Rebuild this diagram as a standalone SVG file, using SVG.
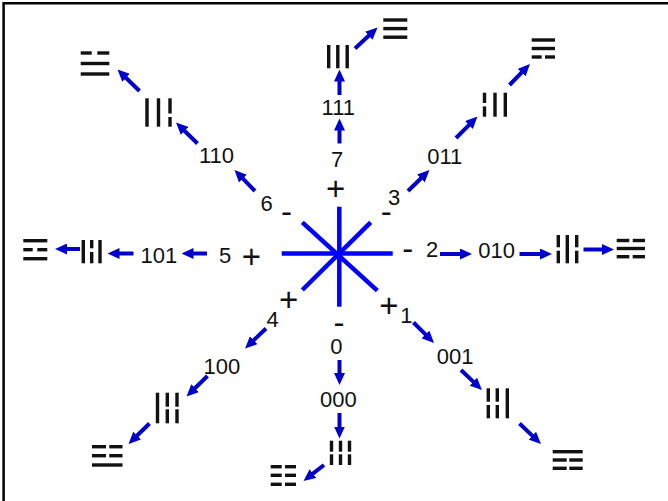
<svg xmlns="http://www.w3.org/2000/svg" width="668" height="501" viewBox="0 0 668 501">
<style>
.bg{fill:#fff}
.frame{fill:none;stroke:#000;stroke-width:2.5;stroke-linejoin:miter}
.star{stroke:#0000FF;stroke-width:4.5;stroke-linecap:butt}
.arr{stroke:#0000CD;stroke-width:4;fill:none;marker-end:url(#ah)}
.bar{fill:#111}
.lbl{font-family:"Liberation Sans",Arial,sans-serif;font-size:22px;fill:#111;text-anchor:middle}
.sgn{font-family:"Liberation Sans",Arial,sans-serif;font-size:33px;fill:#111;text-anchor:middle}
</style>
<defs>
<marker id="ah" viewBox="0 0 12 11" refX="1" refY="5.5" markerWidth="12" markerHeight="11" markerUnits="userSpaceOnUse" orient="auto">
<path d="M0,0 L12,5.5 L0,11 Z" fill="#0000CD"/>
</marker>
</defs>
<rect class="bg" x="0" y="0" width="668" height="501"/>
<path class="frame" d="M3.6,501 V3.3 H668"/>

<g id="hub">
<line class="star" x1="339.3" y1="206.7" x2="339.3" y2="306.7"/>
<line class="star" x1="281.7" y1="253.5" x2="392.7" y2="253.5"/>
<line class="star" x1="302.3" y1="222.3" x2="377.3" y2="290.7"/>
<line class="star" x1="370.7" y1="222.3" x2="302.3" y2="290"/>
</g>

<g id="signs">
<text class="sgn" x="335.7" y="200">+</text>
<text class="sgn" x="251.5" y="268">+</text>
<text class="sgn" x="288.7" y="311.4">+</text>
<text class="sgn" x="388.8" y="317.4">+</text>
<text class="sgn" x="286.5" y="222.7">-</text>
<text class="sgn" x="386.2" y="222.7">-</text>
<text class="sgn" x="407.8" y="259.7">-</text>
<text class="sgn" x="339" y="333.7">-</text>
</g>

<g id="n7"><text class="lbl" x="337" y="166.7">7</text></g>
<g id="n6"><text class="lbl" x="266.7" y="210.7">6</text></g>
<g id="n3"><text class="lbl" x="394" y="204.5">3</text></g>
<g id="n2"><text class="lbl" x="432" y="257.3">2</text></g>
<g id="n5"><text class="lbl" x="225" y="262.5">5</text></g>
<g id="n4"><text class="lbl" x="272.7" y="326.7">4</text></g>
<g id="n0"><text class="lbl" x="336.3" y="353.5">0</text></g>
<g id="n1"><text class="lbl" x="406.3" y="322.7">1</text></g>

<g id="b111"><text class="lbl" x="338.3" y="115">111</text></g>
<g id="b011"><text class="lbl" x="444.8" y="164">011</text></g>
<g id="b110"><text class="lbl" x="216.5" y="163.3">110</text></g>
<g id="b101"><text class="lbl" x="158.8" y="262.5">101</text></g>
<g id="b010"><text class="lbl" x="496.7" y="258.3">010</text></g>
<g id="b001"><text class="lbl" x="455.2" y="364">001</text></g>
<g id="b000"><text class="lbl" x="338.3" y="407">000</text></g>
<g id="b100"><text class="lbl" x="221.8" y="374">100</text></g>

<!-- vertical trigrams -->
<g id="v111">
<rect class="bar" x="327" y="45" width="3.4" height="23.3"/>
<rect class="bar" x="336.1" y="45" width="3.4" height="23.3"/>
<rect class="bar" x="345.5" y="45" width="3.4" height="23.3"/>
</g>
<g id="v011">
<rect class="bar" x="482.8" y="92.7" width="3.4" height="10.3"/>
<rect class="bar" x="482.8" y="106.4" width="3.4" height="10.3"/>
<rect class="bar" x="493.3" y="92.7" width="3.4" height="24"/>
<rect class="bar" x="503.6" y="92.7" width="3.4" height="24"/>
</g>
<g id="v110">
<rect class="bar" x="145.3" y="98.3" width="3.4" height="28.4"/>
<rect class="bar" x="156.8" y="98.3" width="3.4" height="28.4"/>
<rect class="bar" x="168.3" y="98.3" width="3.4" height="15.2"/>
<rect class="bar" x="168.3" y="117" width="3.4" height="9.7"/>
</g>
<g id="v101">
<rect class="bar" x="81.6" y="240" width="3.4" height="23.3"/>
<rect class="bar" x="90" y="240" width="3.4" height="8.3"/>
<rect class="bar" x="90" y="252" width="3.4" height="11.3"/>
<rect class="bar" x="98.3" y="240" width="3.4" height="23.3"/>
</g>
<g id="v010">
<rect class="bar" x="556.6" y="235" width="3.4" height="12.3"/>
<rect class="bar" x="556.6" y="250.7" width="3.4" height="12.6"/>
<rect class="bar" x="565.6" y="235" width="3.4" height="28.3"/>
<rect class="bar" x="575" y="235" width="3.4" height="12.3"/>
<rect class="bar" x="575" y="250.7" width="3.4" height="12.6"/>
</g>
<g id="v001">
<rect class="bar" x="486.6" y="388.3" width="3.4" height="13.4"/>
<rect class="bar" x="486.6" y="405" width="3.4" height="13.3"/>
<rect class="bar" x="495.6" y="388.3" width="3.4" height="13.4"/>
<rect class="bar" x="495.6" y="405" width="3.4" height="13.3"/>
<rect class="bar" x="505.6" y="388.3" width="3.4" height="30"/>
</g>
<g id="v000">
<rect class="bar" x="329.8" y="440.7" width="3.4" height="11"/>
<rect class="bar" x="329.8" y="454.3" width="3.4" height="10.7"/>
<rect class="bar" x="338.8" y="440.7" width="3.4" height="11"/>
<rect class="bar" x="338.8" y="454.3" width="3.4" height="10.7"/>
<rect class="bar" x="347.8" y="440.7" width="3.4" height="11"/>
<rect class="bar" x="347.8" y="454.3" width="3.4" height="10.7"/>
</g>
<g id="v100">
<rect class="bar" x="155.8" y="392.7" width="3.4" height="30.6"/>
<rect class="bar" x="165.6" y="392.7" width="3.4" height="14"/>
<rect class="bar" x="165.6" y="409.3" width="3.4" height="14"/>
<rect class="bar" x="175.3" y="392.7" width="3.4" height="14"/>
<rect class="bar" x="175.3" y="409.3" width="3.4" height="14"/>
</g>

<!-- horizontal trigrams -->
<g id="h111">
<rect class="bar" x="383.3" y="18.3" width="24" height="3.4"/>
<rect class="bar" x="383.3" y="26.9" width="24" height="3.4"/>
<rect class="bar" x="383.3" y="35.5" width="24" height="3.4"/>
</g>
<g id="h011">
<rect class="bar" x="531.7" y="38.3" width="23.3" height="3.4"/>
<rect class="bar" x="531.7" y="46.8" width="23.3" height="3.4"/>
<rect class="bar" x="531.7" y="55.3" width="10" height="3.4"/>
<rect class="bar" x="545" y="55.3" width="10" height="3.4"/>
</g>
<g id="h110">
<rect class="bar" x="80.7" y="51.3" width="11" height="3.4"/>
<rect class="bar" x="97.3" y="51.3" width="12" height="3.4"/>
<rect class="bar" x="80.7" y="61.8" width="28.6" height="3.4"/>
<rect class="bar" x="80.7" y="72.3" width="28.6" height="3.4"/>
</g>
<g id="h101">
<rect class="bar" x="23.3" y="239" width="24" height="3.4"/>
<rect class="bar" x="23.3" y="248" width="9.4" height="3.4"/>
<rect class="bar" x="37.3" y="248" width="10" height="3.4"/>
<rect class="bar" x="23.3" y="257" width="24" height="3.4"/>
</g>
<g id="h010">
<rect class="bar" x="616.7" y="238.8" width="12.6" height="3.4"/>
<rect class="bar" x="632.7" y="238.8" width="12.3" height="3.4"/>
<rect class="bar" x="616.7" y="246.8" width="28.3" height="3.4"/>
<rect class="bar" x="616.7" y="255" width="12.6" height="3.4"/>
<rect class="bar" x="632.7" y="255" width="12.3" height="3.4"/>
</g>
<g id="h001">
<rect class="bar" x="552.7" y="450" width="30" height="3.4"/>
<rect class="bar" x="552.7" y="458.3" width="14" height="3.4"/>
<rect class="bar" x="569.3" y="458.3" width="13.4" height="3.4"/>
<rect class="bar" x="552.7" y="466.6" width="14" height="3.4"/>
<rect class="bar" x="569.3" y="466.6" width="13.4" height="3.4"/>
</g>
<g id="h000">
<rect class="bar" x="270.7" y="465" width="11" height="3.4"/>
<rect class="bar" x="285" y="465" width="11" height="3.4"/>
<rect class="bar" x="270.7" y="473.6" width="11" height="3.4"/>
<rect class="bar" x="285" y="473.6" width="11" height="3.4"/>
<rect class="bar" x="270.7" y="482.6" width="11" height="3.4"/>
<rect class="bar" x="285" y="482.6" width="11" height="3.4"/>
</g>
<g id="h100">
<rect class="bar" x="92" y="445" width="14" height="3.4"/>
<rect class="bar" x="109.3" y="445" width="13.2" height="3.4"/>
<rect class="bar" x="92" y="454" width="14" height="3.4"/>
<rect class="bar" x="109.3" y="454" width="13.2" height="3.4"/>
<rect class="bar" x="92" y="463.3" width="30.5" height="3.4"/>
</g>

<g id="connectors">
<path class="arr" d="M339.5,143.5 L339.5,129.5"/>
<path class="arr" d="M339.5,95 L339.5,80.5"/>
<path class="arr" d="M355,48.5 L369.5,35"/>
<path class="arr" d="M408,191 L421.6,177.7"/>
<path class="arr" d="M456,138 L469.7,124.3"/>
<path class="arr" d="M509.5,85 L522.3,71.9"/>
<path class="arr" d="M255,191 L242.2,177.9"/>
<path class="arr" d="M197.5,143.5 L183.9,130.2"/>
<path class="arr" d="M139.5,91 L125.4,77.2"/>
<path class="arr" d="M207,253.5 L192.5,253.5"/>
<path class="arr" d="M133.5,253.5 L118.5,253.5"/>
<path class="arr" d="M80,249 L66,249"/>
<path class="arr" d="M440,254 L461,254"/>
<path class="arr" d="M519.5,254 L541,254"/>
<path class="arr" d="M583.5,249.5 L603,249.5"/>
<path class="arr" d="M413.5,322.5 L426.2,335.2"/>
<path class="arr" d="M461,370 L474,382.4"/>
<path class="arr" d="M519.5,423.5 L533,436.4"/>
<path class="arr" d="M339.5,360 L339.5,374"/>
<path class="arr" d="M339.5,413 L339.5,427.5"/>
<path class="arr" d="M324,465 L312.2,474.2"/>
<path class="arr" d="M266,328.5 L253,340.9"/>
<path class="arr" d="M207.5,376 L194.4,388.8"/>
<path class="arr" d="M149.5,423.5 L136.4,436.3"/>
</g>
</svg>
